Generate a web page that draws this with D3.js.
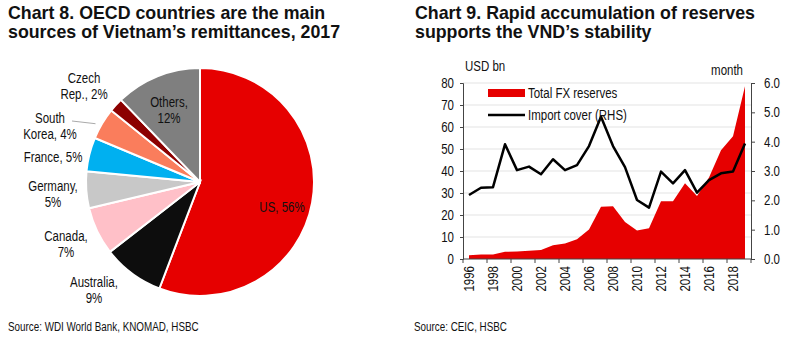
<!DOCTYPE html>
<html>
<head>
<meta charset="utf-8">
<script src="https://cdn.jsdelivr.net/npm/d3@7/dist/d3.min.js"></script>
<style>
  body { margin: 0; background: #fff; }
  text { font-family: "Liberation Sans", Arial, sans-serif; fill: #111; }
  .title { font-weight: bold; font-size: 17.8px; }
</style>
</head>
<body>
<script>
const svgWidth = 800
const svgHeight = 348

// chart 8: remittance sources (share, %)
const countries = ["US", "Australia", "Canada", "Germany", "France", "South Korea", "Czech Rep.", "Others"]
const shares = [55.8, 8.7, 6.8, 5.2, 4.8, 4.5, 2.0, 12.2]
const shareLabels = [["US, 56%"], ["Australia,", "9%"], ["Canada,", "7%"], ["Germany,", "5%"],
  ["France, 5%"], ["South", "Korea, 4%"], ["Czech", "Rep., 2%"], ["Others,", "12%"]]
const sliceColors = ["#e60000", "#0d0d0d", "#ffc0c8", "#c8c8c8", "#00b0f0", "#fa7d5c", "#8c0000", "#7f7f7f"]

// chart 9: reserves and import cover
const years = d3.range(1996, 2020)
const reserves = [1.7, 2.0, 2.0, 3.3, 3.4, 3.7, 4.1, 6.2, 7.0, 9.0, 13.4, 23.8, 24.0, 16.8,
  13.0, 14.0, 26.2, 26.3, 34.4, 28.6, 37.0, 49.4, 55.8, 78.5]
const importCover = [2.18, 2.43, 2.45, 3.91, 3.03, 3.15, 2.89, 3.40, 3.03, 3.20, 3.85, 4.85,
  3.85, 3.13, 2.01, 1.75, 2.98, 2.58, 3.03, 2.26, 2.69, 2.92, 2.98, 3.94]
const leftTicks = [0, 10, 20, 30, 40, 50, 60, 70, 80]
const rightTicks = [0, 1, 2, 3, 4, 5, 6]

const svg = d3.select("body").append("svg")
  .attr("width", svgWidth)
  .attr("height", svgHeight)

// no narrow font installed, so squeeze regular text horizontally
const narrow = (sel, k = 0.82) => {
  sel.each(function() {
    const len = this.getComputedTextLength()
    d3.select(this).attr("textLength", len * k).attr("lengthAdjust", "spacingAndGlyphs")
  })
}

// titles and sources
const titles = [
  { x: 8, lines: ["Chart 8. OECD countries are the main", "sources of Vietnam\u2019s remittances, 2017"] },
  { x: 415, lines: ["Chart 9. Rapid accumulation of reserves", "supports the VND\u2019s stability"] }
]
titles.forEach(t => {
  t.lines.forEach((l, i) => {
    svg.append("text").attr("class", "title")
      .attr("x", t.x).attr("y", 19 + i * 18.5)
      .text(l)
  })
})
const src1 = svg.append("text").attr("x", 8).attr("y", 331).style("font-size", "12px")
  .text("Source: WDI World Bank, KNOMAD, HSBC")
const src2 = svg.append("text").attr("x", 414).attr("y", 331).style("font-size", "12px")
  .text("Source: CEIC, HSBC")
narrow(src1)
narrow(src2)

// ---- pie ----
const pieG = svg.append("g").attr("transform", "translate(200, 182)")
const radius = 114

const pie = d3.pie().sort(null).value(d => d)
const arc = d3.arc().innerRadius(0).outerRadius(radius)
const arcs = pie(shares)

pieG.selectAll("path")
  .data(arcs)
  .enter()
  .append("path")
  .attr("d", arc)
  .attr("fill", (d, i) => sliceColors[i])
  .attr("stroke", "#fff")
  .attr("stroke-width", 2)

// label anchors relative to pie centre (hand placed like the original)
const labelOffsets = [[82, 25], [-106, 108], [-134, 62], [-147, 12], [-147, -25], [-150, -56], [-116, -96], [-31, -72]]
const lineGap = 16.5

arcs.forEach((a, i) => {
  const lines = shareLabels[i]
  const [ox, oy] = labelOffsets[i]
  const startY = oy - (lines.length - 1) * lineGap / 2
  lines.forEach((l, j) => {
    pieG.append("text")
      .attr("class", "plabel")
      .attr("x", ox).attr("y", startY + j * lineGap)
      .attr("dy", "0.36em")
      .attr("text-anchor", "middle")
      .style("font-size", "14px")
      .text(l)
  })
})
narrow(pieG.selectAll(".plabel"))

// leader line for South Korea
const krArc = d3.arc().innerRadius(radius - 4).outerRadius(radius - 4)
const krPt = krArc.centroid(arcs[5])
pieG.append("line")
  .attr("x1", -128).attr("y1", -61)
  .attr("x2", krPt[0] - 10).attr("y2", krPt[1] - 2)
  .attr("stroke", "#aaa").attr("stroke-width", 1)

// ---- area / line chart ----
const plot = { left: 463, right: 751, top: 83, bottom: 259 }

const x = d3.scaleBand()
  .domain(years)
  .range([plot.left, plot.right])
  .padding(0)
const xc = d => x(d) + x.bandwidth() / 2

const y = d3.scaleLinear().domain([0, 80]).range([plot.bottom, plot.top])
const y2 = d3.scaleLinear().domain([0, 6]).range([plot.bottom, plot.top])

const chartG = svg.append("g")

// gridlines
chartG.selectAll(".grid")
  .data(leftTicks.slice(1))
  .enter()
  .append("line")
  .attr("x1", plot.left).attr("x2", plot.right)
  .attr("y1", d => y(d)).attr("y2", d => y(d))
  .attr("stroke", "#e3e3e3").attr("stroke-width", 1)

// reserves area
const area = d3.area()
  .x((d, i) => xc(years[i]))
  .y0(y(0))
  .y1(d => y(d))

chartG.append("path")
  .datum(reserves)
  .attr("d", area)
  .attr("fill", "#e60000")

// import cover line
const line = d3.line()
  .x((d, i) => xc(years[i]))
  .y(d => y2(d))

chartG.append("path")
  .datum(importCover)
  .attr("d", line)
  .attr("fill", "none")
  .attr("stroke", "#000")
  .attr("stroke-width", 2.5)
  .attr("stroke-linejoin", "round")

// axes
const axisColor = "#444"
const yAxis = d3.axisLeft(y).tickValues(leftTicks).tickSize(3).tickPadding(6)
const y2Axis = d3.axisRight(y2).tickValues(rightTicks).tickSize(4).tickPadding(9).tickFormat(d3.format(".1f"))

const yAxisG = chartG.append("g").attr("transform", `translate(${plot.left}, 0)`).call(yAxis)
const y2AxisG = chartG.append("g").attr("transform", `translate(${plot.right}, 0)`).call(y2Axis)

;[yAxisG, y2AxisG].forEach(g => {
  g.select(".domain").attr("stroke", axisColor)
  g.selectAll(".tick line").attr("stroke", axisColor)
  g.selectAll(".tick text").style("font-size", "14px").attr("fill", "#111")
  narrow(g.selectAll(".tick text"))
})

// bottom axis: line, ticks at every other band boundary, rotated year labels
chartG.append("line")
  .attr("x1", plot.left).attr("x2", plot.right)
  .attr("y1", plot.bottom).attr("y2", plot.bottom)
  .attr("stroke", axisColor)

const evenYears = years.filter(d => d % 2 === 0)
chartG.selectAll(".xtick")
  .data(evenYears.map(d => x(d)).concat([plot.right]))
  .enter()
  .append("line")
  .attr("x1", d => d).attr("x2", d => d)
  .attr("y1", plot.bottom).attr("y2", plot.bottom + 4)
  .attr("stroke", axisColor)

const xLabels = chartG.selectAll(".xlabel")
  .data(evenYears)
  .enter()
  .append("text")
  .attr("transform", d => `translate(${xc(d)}, 266) rotate(-90)`)
  .attr("text-anchor", "end")
  .attr("dy", "0.36em")
  .style("font-size", "14px")
  .text(d => d)
narrow(xLabels)

// axis titles
const unitL = svg.append("text").attr("x", 465).attr("y", 66).attr("dy", "0.36em").style("font-size", "14px").text("USD bn")
const unitR = svg.append("text").attr("x", 743).attr("y", 70).attr("dy", "0.36em").attr("text-anchor", "end").style("font-size", "14px").text("month")
narrow(unitL)
narrow(unitR)

// legend
const legend = svg.append("g").attr("transform", "translate(488, 93)")
legend.append("rect").attr("x", 0).attr("y", -4).attr("width", 37).attr("height", 8).attr("fill", "#e60000")
legend.append("text").attr("x", 40).attr("y", 0).attr("dy", "0.36em").style("font-size", "14px").text("Total FX reserves")
legend.append("line").attr("x1", 0).attr("x2", 37).attr("y1", 22).attr("y2", 22)
  .attr("stroke", "#000").attr("stroke-width", 2.5)
legend.append("text").attr("x", 40).attr("y", 22).attr("dy", "0.36em").style("font-size", "14px").text("Import cover (RHS)")
narrow(legend.selectAll("text"))
</script>
</body>
</html>
